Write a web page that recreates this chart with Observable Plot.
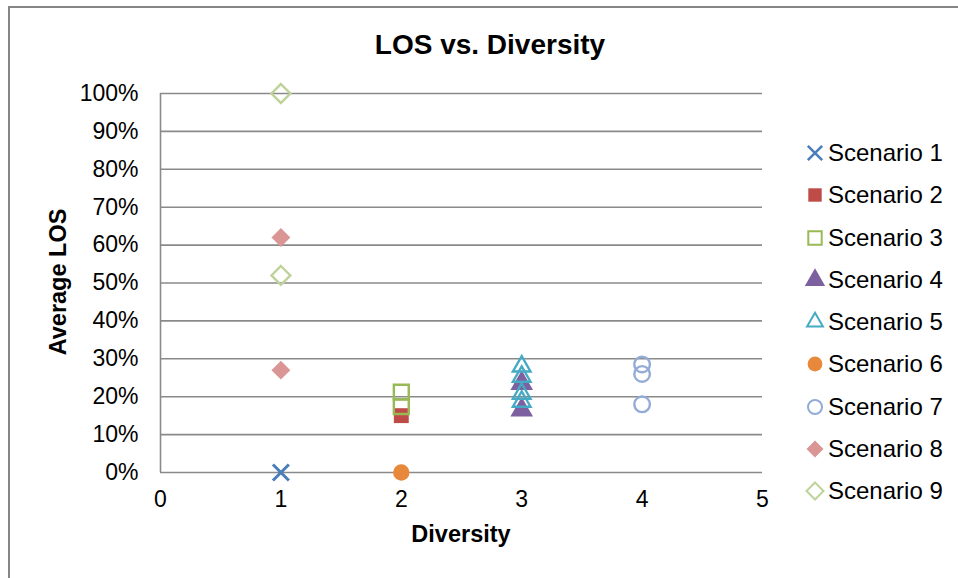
<!DOCTYPE html>
<html>
<head>
<meta charset="utf-8">
<script src="https://cdn.jsdelivr.net/npm/d3@7"></script>
<script src="https://cdn.jsdelivr.net/npm/@observablehq/plot@0.6"></script>
<style>
  html, body { margin: 0; padding: 0; background: #fff; overflow: hidden; }
  #wrap { position: relative; width: 958px; height: 578px; font-family: "Liberation Sans", Arial, sans-serif; color: #000; }
  #frame { position: absolute; left: 8px; top: 6px; width: 980px; height: 600px; border: 2px solid #858585; box-sizing: border-box; }
  #chart { position: absolute; left: 0; top: 0; }
  #title { position: absolute; left: 0; width: 958px; top: 29px; text-align: center; font-weight: bold; font-size: 28px; padding-left: 22px; box-sizing: border-box; }
  #xlabel { position: absolute; left: 160px; width: 602px; top: 521px; text-align: center; font-weight: bold; font-size: 23.5px; }
  #ylabel { position: absolute; left: 58px; top: 282px; transform: translate(-50%, -50%) rotate(-90deg); font-weight: bold; font-size: 23.5px; white-space: nowrap; }
  #legend { position: absolute; left: 803px; top: 132px; }
  .item { display: flex; align-items: center; height: 42.25px; font-size: 24px; white-space: nowrap; }
  .item svg { width: 24px; height: 24px; margin-right: 1px; }
</style>
</head>
<body>
<div id="wrap">
  <div id="frame"></div>
  <div id="chart"></div>
  <div id="title">LOS vs. Diversity</div>
  <div id="ylabel">Average LOS</div>
  <div id="xlabel">Diversity</div>
  <div id="legend"></div>
</div>
<script>
// ---- data ----
const scenarios = ["Scenario 1","Scenario 2","Scenario 3","Scenario 4","Scenario 5","Scenario 6","Scenario 7","Scenario 8","Scenario 9"];
const diversity = [1, 2, 2, 3, 3, 2, 4, 1, 1];
const s1 = [0.0];
const s2 = [0.15];
const s3 = [0.212, 0.174];
const s4 = [0.235, 0.165];
const s5 = [0.28, 0.253, 0.208, 0.187];
const s6 = [0.0];
const s7 = [0.285, 0.26, 0.18];
const s8 = [0.62, 0.27];
const s9 = [1.0, 0.52];
const seriesValues = [s1, s2, s3, s4, s5, s6, s7, s8, s9];
const xTicks = [0, 1, 2, 3, 4, 5];
const yTicks = [0, 0.1, 0.2, 0.3, 0.4, 0.5, 0.6, 0.7, 0.8, 0.9, 1.0];

// ---- styles ----
const colors = ["#4A7EBB","#BE4B48","#98B954","#7D60A0","#46AAC5","#E8883A","#93ABD6","#D99694","#BDD39A"];
const symbols = ["times","square","square","triangle","triangle2","circle","circle","diamond2","diamond2"];
const filled = [false, true, false, true, false, true, false, true, false];
const radius = [7.3, 8.4, 8.4, 8.4, 8.4, 8.2, 7.8, 8.5, 8.5];

const rows = [];
seriesValues.forEach((vals, i) => vals.forEach(v => rows.push({ series: scenarios[i], x: diversity[i], y: v, i })));

const dotMarks = scenarios.map((name, i) => Plot.dot(rows.filter(d => d.i === i), {
  x: "x", y: "y",
  symbol: () => symbols[i],
  r: radius[i],
  fill: filled[i] ? colors[i] : "none",
  stroke: colors[i],
  strokeWidth: filled[i] ? 0 : (i === 0 ? 3 : 2.4)
}));

const plot = Plot.plot({
  width: 958,
  height: 578,
  marginLeft: 160,
  marginRight: 196,
  marginTop: 93,
  marginBottom: 106,
  style: { fontFamily: "Liberation Sans, Arial, sans-serif", fontSize: "23px", color: "#000", background: "transparent" },
  x: { domain: [0, 5] },
  y: { domain: [0, 1] },
  symbol: { type: "identity" },
  marks: [
    Plot.ruleY(yTicks, { stroke: "#8a8a8a", strokeWidth: 1.6 }),
    Plot.ruleX([0], { stroke: "#8a8a8a", strokeWidth: 1.6 }),
    Plot.axisY(yTicks, { tickSize: 0, tickPadding: 22, tickFormat: d3.format(".0%"), label: null, fontSize: 23 }),
    Plot.axisX(xTicks, { tickSize: 0, tickPadding: 18, tickFormat: d3.format("d"), label: null, fontSize: 23 }),
    ...dotMarks
  ]
});
document.getElementById("chart").appendChild(plot);

// ---- legend ----
const symMap = {
  times: d3.symbolTimes || d3.symbolCross,
  square: d3.symbolSquare,
  triangle: d3.symbolTriangle,
  triangle2: d3.symbolTriangle2 || d3.symbolTriangle,
  circle: d3.symbolCircle,
  diamond2: d3.symbolDiamond2 || d3.symbolDiamond
};
const legend = d3.select("#legend");
scenarios.forEach((name, i) => {
  const item = legend.append("div").attr("class", "item");
  const svg = item.append("svg").attr("viewBox", "-12 -12 24 24");
  const r = radius[i] * 0.9;
  svg.append("path")
    .attr("d", d3.symbol(symMap[symbols[i]], Math.PI * r * r)())
    .attr("fill", filled[i] ? colors[i] : "none")
    .attr("stroke", filled[i] ? "none" : colors[i])
    .attr("stroke-width", i === 0 ? 2.6 : 2);
  item.append("span").text(name);
});
</script>
</body>
</html>
